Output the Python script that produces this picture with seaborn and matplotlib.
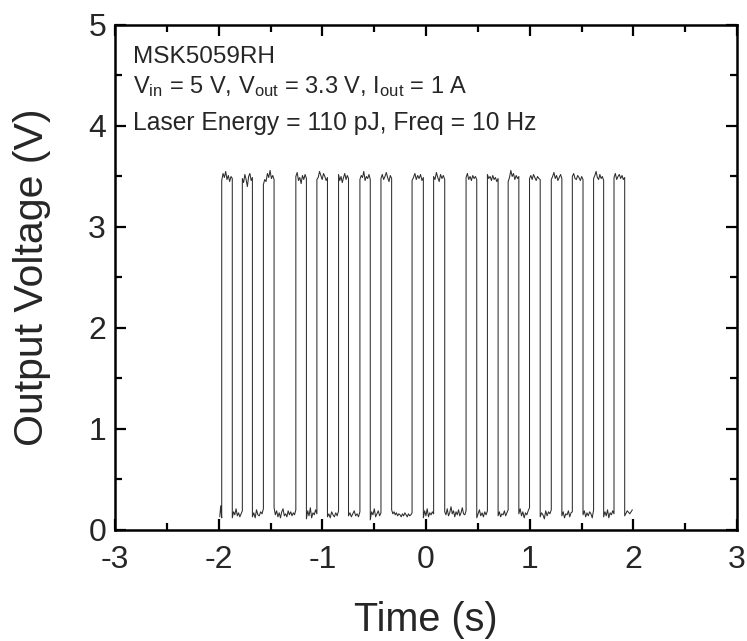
import numpy as np
import pandas as pd
import matplotlib
matplotlib.use("Agg")
import matplotlib.pyplot as plt
import seaborn as sns
from matplotlib.ticker import MultipleLocator

# ---- data ----
t_start = -1.99
t_end = 1.99
rise_times = [-1.971, -1.772, -1.569, -1.256, -1.053, -0.844, -0.638, -0.435,
              -0.135, 0.073, 0.386, 0.592, 0.792, 0.998, 1.208, 1.411, 1.616, 1.813]
fall_times = [-1.869, -1.675, -1.466, -1.154, -0.951, -0.748, -0.538, -0.332,
              -0.026, 0.180, 0.489, 0.695, 0.895, 1.101, 1.310, 1.514, 1.713, 1.916]

high_samples = [
    [3.46, 3.53, 3.49, 3.55, 3.47, 3.51, 3.45, 3.50, 3.48],
    [3.48, 3.44, 3.52, 3.47, 3.40, 3.50, 3.53, 3.46, 3.49],
    [3.42, 3.47, 3.45, 3.53, 3.49, 3.56, 3.48, 3.51, 3.47],
    [3.50, 3.54, 3.46, 3.49, 3.43, 3.51, 3.47, 3.52, 3.48],
    [3.47, 3.49, 3.55, 3.51, 3.47, 3.53, 3.50, 3.46, 3.49],
    [3.52, 3.46, 3.50, 3.44, 3.49, 3.53, 3.47, 3.51, 3.48],
    [3.47, 3.51, 3.49, 3.55, 3.46, 3.50, 3.48, 3.52, 3.47],
    [3.48, 3.52, 3.47, 3.50, 3.54, 3.49, 3.45, 3.51, 3.48],
    [3.46, 3.49, 3.53, 3.47, 3.51, 3.48, 3.52, 3.46, 3.49],
    [3.50, 3.47, 3.54, 3.49, 3.45, 3.52, 3.48, 3.51, 3.47],
    [3.49, 3.53, 3.47, 3.50, 3.46, 3.51, 3.48, 3.50, 3.47],
    [3.52, 3.48, 3.50, 3.46, 3.51, 3.47, 3.49, 3.45, 3.48],
    [3.45, 3.49, 3.56, 3.50, 3.53, 3.47, 3.51, 3.48, 3.50],
    [3.48, 3.51, 3.47, 3.52, 3.49, 3.46, 3.50, 3.48, 3.47],
    [3.47, 3.50, 3.54, 3.48, 3.51, 3.46, 3.49, 3.52, 3.48],
    [3.50, 3.53, 3.48, 3.47, 3.51, 3.49, 3.46, 3.50, 3.47],
    [3.48, 3.51, 3.55, 3.49, 3.47, 3.52, 3.48, 3.50, 3.46],
    [3.49, 3.53, 3.47, 3.50, 3.52, 3.48, 3.51, 3.47, 3.49],
]

low_samples = [
    [0.13, 0.24, 0.12],
    [0.12, 0.18, 0.15, 0.21, 0.14, 0.17, 0.13, 0.16, 0.19],
    [0.13, 0.17, 0.12, 0.20, 0.15, 0.14, 0.18, 0.16, 0.21],
    [0.22, 0.15, 0.19, 0.13, 0.17, 0.12, 0.18, 0.21, 0.14, 0.16, 0.13, 0.19, 0.15, 0.18, 0.14, 0.17, 0.15, 0.20],
    [0.11, 0.19, 0.14, 0.22, 0.12, 0.17, 0.15, 0.20, 0.16],
    [0.13, 0.16, 0.12, 0.18, 0.15, 0.13, 0.17, 0.14, 0.19],
    [0.14, 0.17, 0.13, 0.16, 0.19, 0.14, 0.16, 0.13, 0.18],
    [0.10, 0.18, 0.15, 0.21, 0.13, 0.16, 0.19, 0.14, 0.17],
    [0.20, 0.16, 0.18, 0.15, 0.17, 0.14, 0.16, 0.15, 0.13, 0.16, 0.14, 0.17, 0.15, 0.13, 0.16, 0.14, 0.15, 0.17],
    [0.12, 0.19, 0.14, 0.21, 0.13, 0.17, 0.15, 0.18, 0.16],
    [0.18, 0.15, 0.21, 0.14, 0.17, 0.23, 0.16, 0.19, 0.13, 0.18, 0.15, 0.20, 0.14, 0.17, 0.22, 0.16, 0.15, 0.19],
    [0.12, 0.16, 0.20, 0.14, 0.17, 0.13, 0.18, 0.15, 0.19],
    [0.14, 0.18, 0.13, 0.16, 0.15, 0.19, 0.14, 0.17, 0.20],
    [0.16, 0.21, 0.14, 0.18, 0.12, 0.17, 0.15, 0.19, 0.22],
    [0.13, 0.17, 0.15, 0.11, 0.19, 0.14, 0.18, 0.16, 0.20],
    [0.14, 0.18, 0.12, 0.16, 0.15, 0.19, 0.13, 0.17, 0.18],
    [0.15, 0.19, 0.13, 0.17, 0.14, 0.18, 0.16, 0.12, 0.20],
    [0.13, 0.18, 0.14, 0.20, 0.12, 0.17, 0.15, 0.19, 0.16],
    [0.14, 0.19, 0.16, 0.20],
]

x_ticks = [-3, -2, -1, 0, 1, 2, 3]
y_ticks = [0, 1, 2, 3, 4, 5]

# ---- build the trace from the read values ----
seg_bounds = [t_start]
for r, f in zip(rise_times, fall_times):
    seg_bounds += [r, f]
seg_bounds.append(t_end)
seg_values = []
for i in range(len(rise_times)):
    seg_values.append(low_samples[i])
    seg_values.append(high_samples[i])
seg_values.append(low_samples[-1])

times, volts = [], []
for k, vals in enumerate(seg_values):
    a, b = seg_bounds[k], seg_bounds[k + 1]
    times.extend(np.linspace(a, b, len(vals)))
    volts.extend(vals)
df = pd.DataFrame({"Time": times, "Voltage": volts})

# ---- style ----
sns.set_style("ticks")
plt.rcParams["font.family"] = ["Liberation Sans", "DejaVu Sans"]
plt.rcParams["mathtext.fontset"] = "custom"
plt.rcParams["mathtext.rm"] = "Liberation Sans"
plt.rcParams["mathtext.it"] = "Liberation Sans:italic"

fig = plt.figure(figsize=(7.47, 6.41), dpi=100)
ax = fig.add_axes([0.154, 0.1732, 0.8327, 0.7878])

sns.lineplot(data=df, x="Time", y="Voltage", sort=False, estimator=None,
             color="#2e2e2e", linewidth=0.75, ax=ax)

ax.set_xlim(-3, 3)
ax.set_ylim(0, 5)
ax.set_xticks(x_ticks)
ax.set_yticks(y_ticks)
ax.set_xticklabels([str(v) for v in x_ticks])
ax.set_yticklabels([str(v) for v in y_ticks])
ax.xaxis.set_minor_locator(MultipleLocator(0.5))
ax.yaxis.set_minor_locator(MultipleLocator(0.5))
ax.tick_params(which="both", direction="in", top=True, right=True, color="black")
ax.tick_params(which="major", length=8, width=1.6, labelsize=23)
ax.tick_params(which="minor", length=5, width=1.6)
ax.tick_params(axis="x", which="major", pad=10.5)
ax.tick_params(axis="y", which="major", pad=6.5)
for sp in ax.spines.values():
    sp.set_linewidth(1.8)
    sp.set_color("black")

ax.set_xlabel("Time (s)", fontsize=28.5)
ax.set_ylabel("Output Voltage (V)", fontsize=29.5)
ax.xaxis.set_label_coords(0.5, -0.14)
ax.yaxis.set_label_coords(-0.103, 0.5)

ax.text(0.029, 0.925, "MSK5059RH", transform=ax.transAxes, fontsize=17.6, va="baseline")
ax.text(0.029, 0.865,
        r"V$_{\mathrm{in}}$ = 5 V, V$_{\mathrm{out}}$ = 3.3 V, I$_{\mathrm{out}}$ = 1 A",
        transform=ax.transAxes, fontsize=17, va="baseline")
ax.text(0.029, 0.792, "Laser Energy = 110 pJ, Freq = 10 Hz",
        transform=ax.transAxes, fontsize=17.7, va="baseline")

fig.savefig("out.png", dpi=100)
